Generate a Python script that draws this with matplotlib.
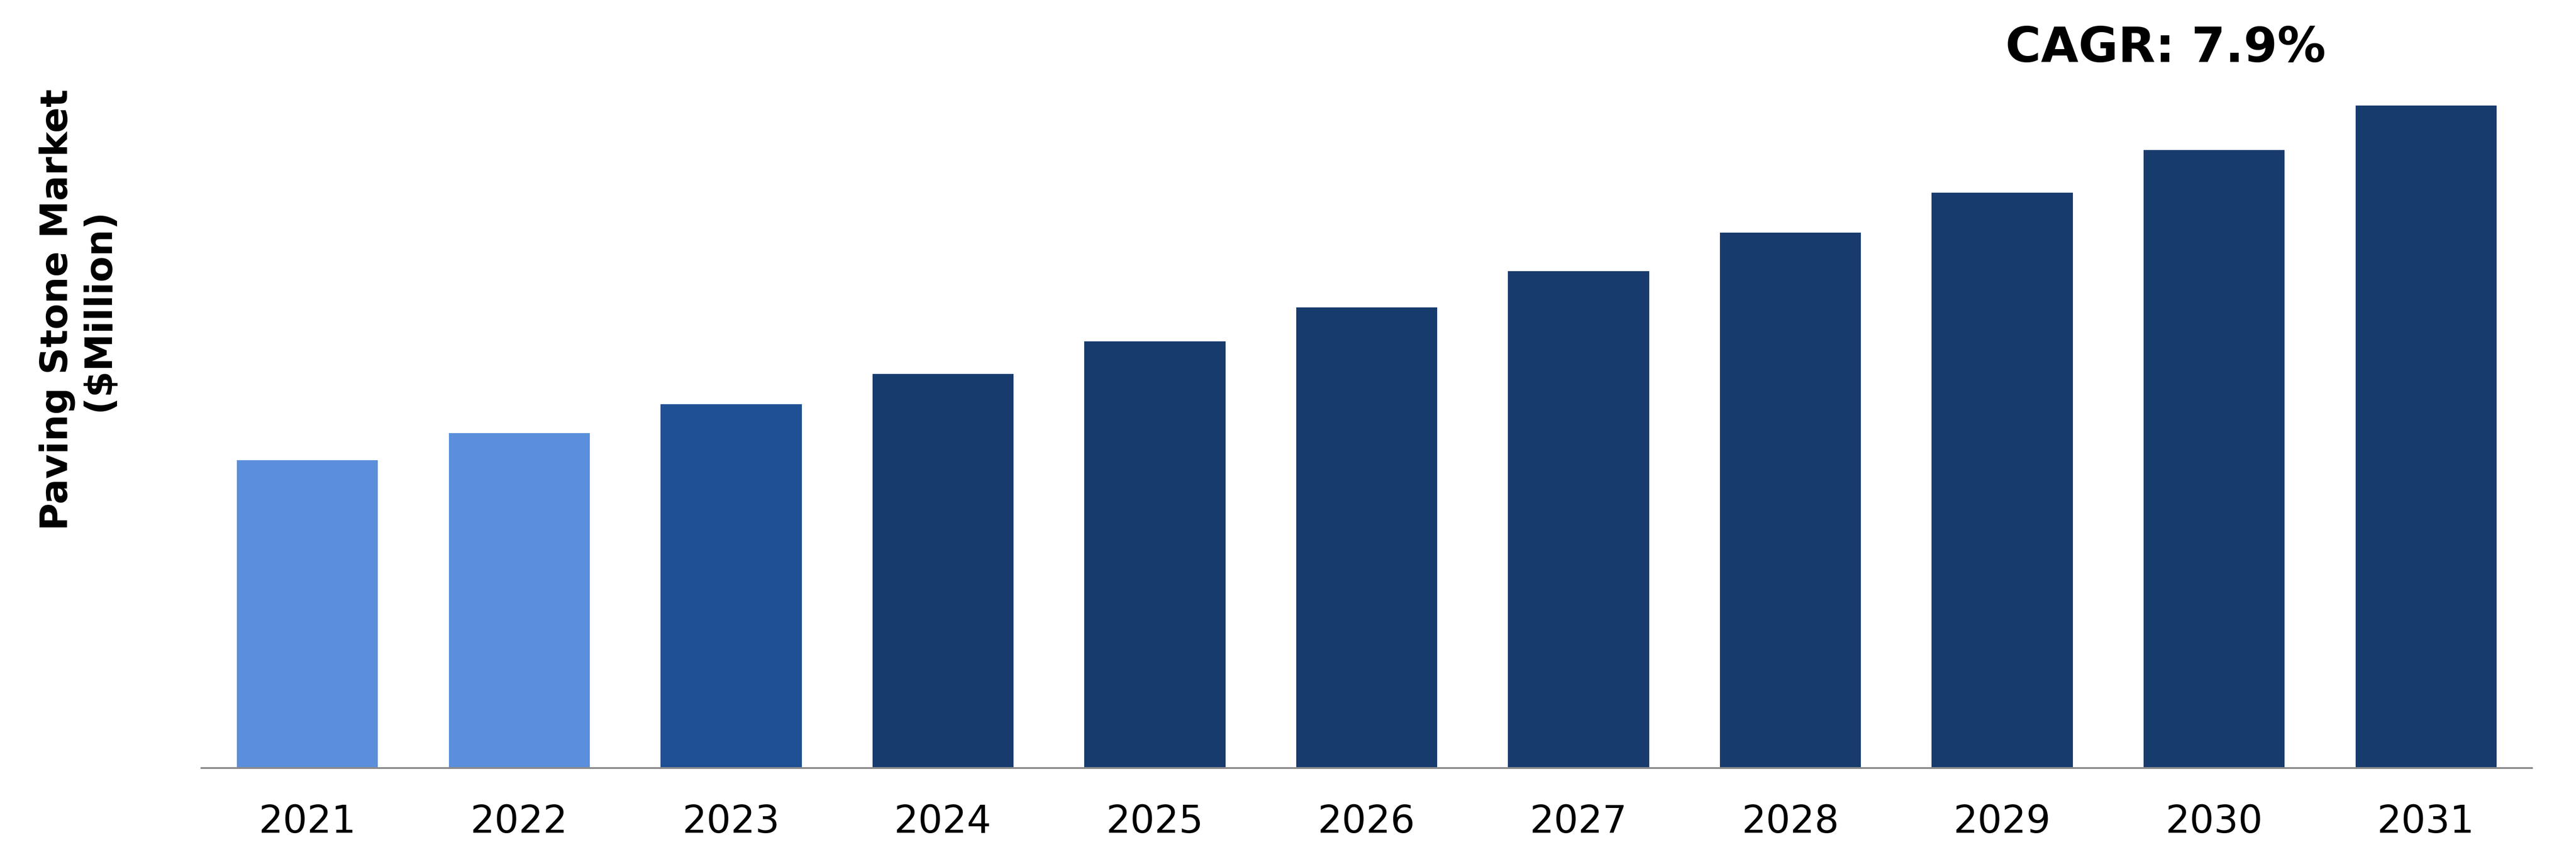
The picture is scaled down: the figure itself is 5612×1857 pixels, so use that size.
import matplotlib
matplotlib.use("Agg")
import matplotlib.pyplot as plt

# values (no y scale shown, relative units)
years = ["2021", "2022", "2023", "2024", "2025", "2026",
         "2027", "2028", "2029", "2030", "2031"]
market = [671, 730, 793, 859, 930, 1004, 1083, 1167, 1254, 1347, 1444]
bar_colors = ["#5B8FDB", "#5B8FDB", "#1F5094"] + ["#183B6E"] * 8
cagr_label = "CAGR: 7.9%"
y_label = "Paving Stone Market\n($Million)"

plt.rcParams["font.family"] = ["DejaVu Sans"]

fig = plt.figure(figsize=(56.12, 18.58), dpi=100)
ax = fig.add_axes([0.07823, 0.09849, 0.90466, 0.84769])

x = list(range(len(years)))
ax.bar(x, market, width=0.666, color=bar_colors, zorder=2)

ax.set_xlim(-0.5, len(years) - 0.5)
ax.set_ylim(0, 1575)
ax.set_xticks(x)
ax.set_xticklabels(years, fontsize=60)
ax.set_yticks([])
ax.tick_params(axis="x", length=0, pad=55)

for side in ["top", "right", "left"]:
    ax.spines[side].set_visible(False)
ax.spines["bottom"].set_color("#8C8C8C")
ax.spines["bottom"].set_linewidth(2.9)
ax.spines["bottom"].set_zorder(3)

fig.text(0.0303, 0.6367, y_label, rotation=90, ha="center", va="center",
         multialignment="center", fontsize=59, fontweight="bold")
fig.text(0.8407, 0.9273, cagr_label, ha="center", va="baseline",
         fontsize=76, fontweight="bold")

fig.savefig("out.png", dpi=100, facecolor="white")
